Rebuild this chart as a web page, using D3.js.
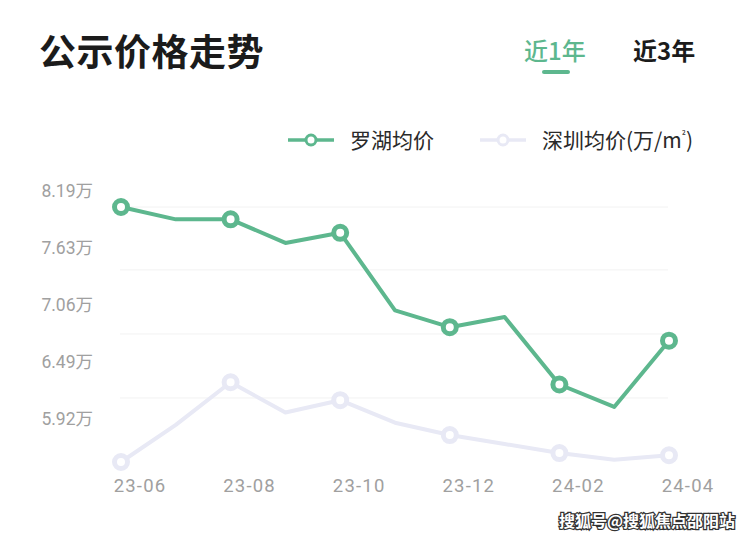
<!DOCTYPE html>
<html><head><meta charset="utf-8">
<script src="https://cdn.jsdelivr.net/npm/d3@7"></script>
<style>
html,body{margin:0;padding:0;background:#fff;}
svg{display:block;font-family:"Noto Sans CJK SC","Noto Sans",sans-serif;}
</style></head>
<body>
<svg id="c" width="740" height="539"></svg>
<script>
const months = ["23-06","23-07","23-08","23-09","23-10","23-11","23-12","24-01","24-02","24-03","24-04"];
const luohu = [8.19,8.08,8.08,7.87,7.96,7.27,7.12,7.21,6.61,6.41,7.00];
const shenzhen = [5.92,6.25,6.63,6.36,6.47,6.27,6.16,6.08,6.00,5.94,5.98];
const yTicks = [8.19,7.63,7.06,6.49,5.92];
const xLabels = ["23-06","23-08","23-10","23-12","24-02","24-04"];
const seriesNames = ["罗湖均价","深圳均价(万/m²)"];
const title = "公示价格走势";
const tabs = ["近1年","近3年"];

const svg = d3.select("#c");
const green = "#5db78e", grey = "#e8e9f5";
const numFont = "Roboto, 'Liberation Sans', 'Noto Sans CJK SC', sans-serif";

const x = d3.scalePoint().domain(months).range([121, 669]);
const y = d3.scaleLinear().domain([5.92, 8.19]).range([462, 207]);
const yLab = d3.scaleLinear().domain([5.92, 8.19]).range([419, 191]);

// title
svg.append("text").attr("x", 39).attr("y", 66).attr("font-size", 37).attr("font-weight", 700)
  .attr("fill", "#1b1b1b").attr("letter-spacing", 0.5).text(title);
svg.append("text").attr("x", 524).attr("y", 60).attr("font-size", 24).attr("font-weight", 500)
  .attr("fill", green).text(tabs[0]);
svg.append("rect").attr("x", 542).attr("y", 70).attr("width", 28).attr("height", 4).attr("rx", 2).attr("fill", green);
svg.append("text").attr("x", 633).attr("y", 60).attr("font-size", 24).attr("font-weight", 700)
  .attr("fill", "#1b1b1b").text(tabs[1]);

// legend
const leg = [{name: seriesNames[0], c: green, x: 288}, {name: seriesNames[1], c: grey, x: 480}];
leg.forEach(l => {
  const g = svg.append("g").attr("transform", `translate(${l.x},140)`);
  g.append("line").attr("x1", 0).attr("x2", 46).attr("stroke", l.c).attr("stroke-width", 3.5);
  g.append("circle").attr("cx", 23).attr("r", 5).attr("fill", "#fff").attr("stroke", l.c).attr("stroke-width", 3);
  const t = g.append("text").attr("x", 62).attr("y", 7.5).attr("font-size", 21).attr("fill", "#2a2a2a");
  const m = l.name.indexOf("²");
  if (m < 0) t.text(l.name);
  else {
    t.append("tspan").text(l.name.slice(0, m));
    t.append("tspan").attr("font-size", 10).attr("dy", -9).text("²");
    t.append("tspan").attr("dy", 9).text(l.name.slice(m + 1));
  }
});

// gridlines
svg.append("g").selectAll("line").data(yTicks.slice(0, 4)).join("line")
  .attr("x1", 120).attr("x2", 668).attr("y1", d => y(d)).attr("y2", d => y(d))
  .attr("stroke", "#f2f2f2").attr("stroke-width", 1);

// y labels
svg.append("g").selectAll("text").data(yTicks).join("text")
  .attr("x", 93).attr("y", d => yLab(d)).attr("dy", "0.36em").attr("text-anchor", "end")
  .attr("font-family", numFont).attr("font-size", 17.5).attr("fill", "#a0a0a0").text(d => d.toFixed(2) + "万");

// x labels
svg.append("g").selectAll("text").data(xLabels).join("text")
  .attr("x", d => x(d) + 19).attr("y", 485).attr("dy", "0.36em").attr("text-anchor", "middle")
  .attr("font-family", numFont).attr("font-size", 18.5).attr("letter-spacing", 1.2)
  .attr("fill", "#a0a0a0").text(d => d);

const line = d3.line().x((d, i) => x(months[i])).y(d => y(d));
function drawSeries(vals, color) {
  svg.append("path").datum(vals).attr("d", line).attr("fill", "none")
    .attr("stroke", color).attr("stroke-width", 4).attr("stroke-linejoin", "round");
  svg.append("g").selectAll("circle").data(vals.map((v, i) => ({v, i})).filter(d => d.i % 2 === 0)).join("circle")
    .attr("cx", d => x(months[d.i])).attr("cy", d => y(d.v)).attr("r", 6.5)
    .attr("fill", "#fff").attr("stroke", color).attr("stroke-width", 5);
}
drawSeries(shenzhen, grey);
drawSeries(luohu, green);

// watermark
svg.append("text").attr("x", 735).attr("y", 527).attr("text-anchor", "end").attr("font-size", 16)
  .attr("font-weight", 700).attr("fill", "#fff").attr("stroke", "#333").attr("stroke-width", 2.5)
  .attr("paint-order", "stroke").text("搜狐号@搜狐焦点邵阳站");
</script>
</body></html>
